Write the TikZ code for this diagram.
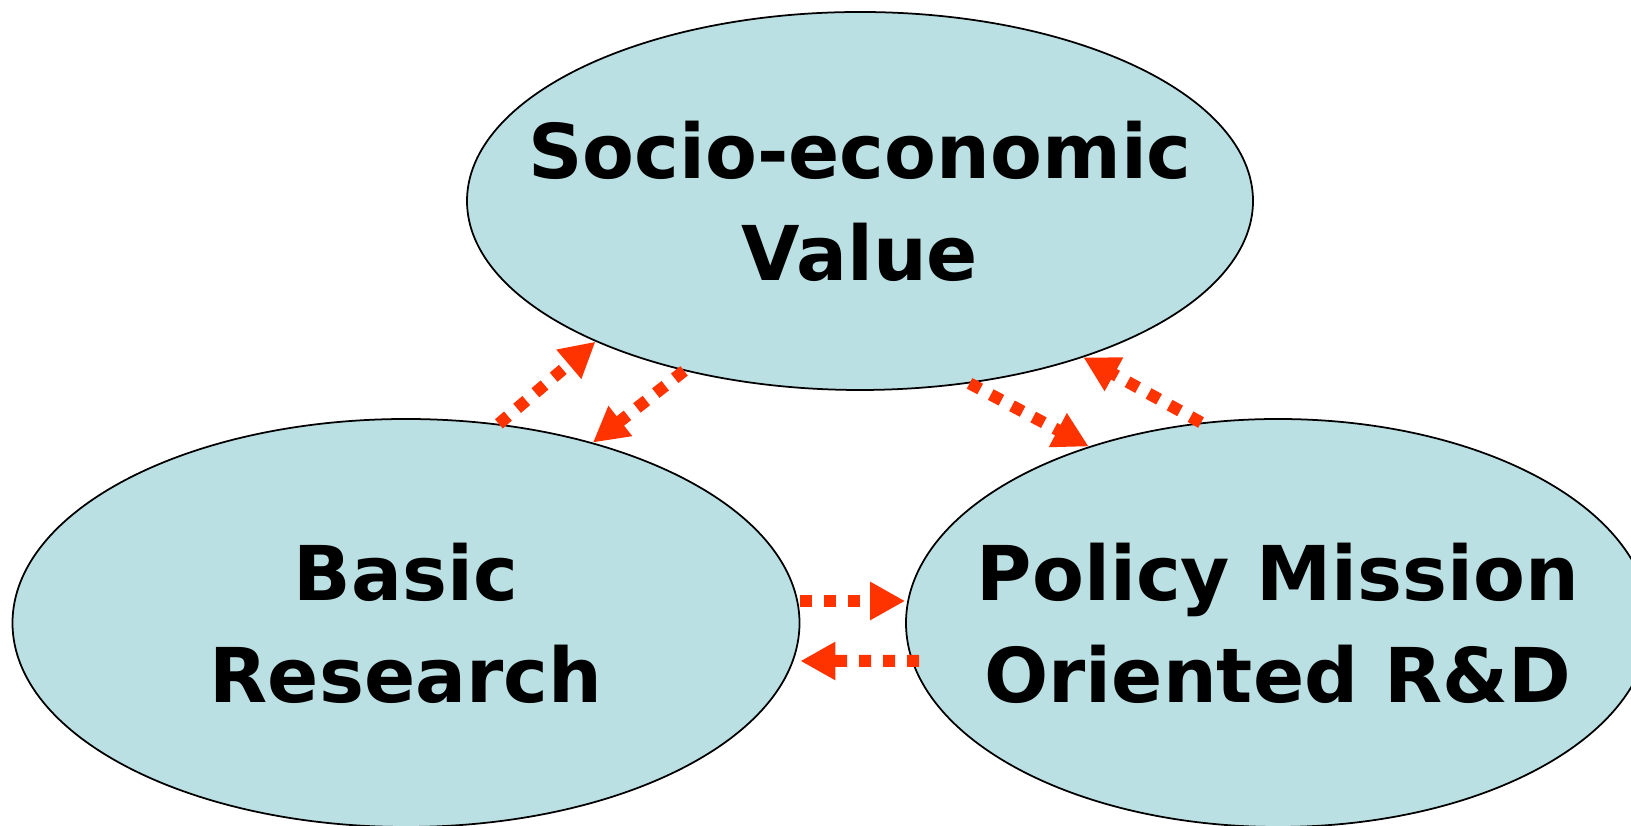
\documentclass[tikz,border=0pt]{standalone}
\usepackage{fontspec}
\setmainfont{DejaVu Sans}
\usepackage{xcolor}
\usetikzlibrary{shapes.geometric,arrows.meta}

\definecolor{bubble}{RGB}{187,224,227}
\definecolor{flow}{RGB}{255,51,0}

\begin{document}
\begin{tikzpicture}[
    bubble/.style={ellipse, draw=black, line width=1pt, fill=bubble, inner sep=0pt},
    bubbletext/.style={align=center, inner sep=0pt, font=\bfseries\fontsize{43}{58}\selectfont},
    flowline/.style={flow, line width=0.24cm, dash pattern=on 0.24cm off 0.24cm,
        -{Triangle[length=0.7cm, width=0.72cm]}}
    ]
        \useasboundingbox (0,0) rectangle (32.62,16.52);

        % three ellipses
        \node[bubble, minimum width=15.72cm, minimum height=7.56cm,
            label={[bubbletext]center:Socio-economic\\Value}] (socio) at (17.2,12.5) {};
        \node[bubble, minimum width=15.74cm, minimum height=8.16cm,
            label={[bubbletext]center:Basic\\Research}] (basic) at (8.12,4.06) {};
        \node[bubble, minimum width=14.88cm, minimum height=8.16cm,
            label={[bubbletext]center:Policy Mission\\Oriented R\&D}] (policy) at (25.56,4.06) {};

        % dotted arrows between them
        \draw[flowline] (basic.65) -- (socio.208);
        \draw[flowline] (socio.224) -- (basic.44);
        \draw[flowline] (socio.301) -- (policy.137);
        \draw[flowline] (policy.111) -- (socio.325);
        \draw[flowline] ([yshift=0.44cm]basic.east) -- ([yshift=0.44cm]policy.west);
        \draw[flowline] ([shift={(0.28,-0.76)}]policy.west) -- ([yshift=-0.76cm]basic.east);

    \end{tikzpicture}
\end{document}
